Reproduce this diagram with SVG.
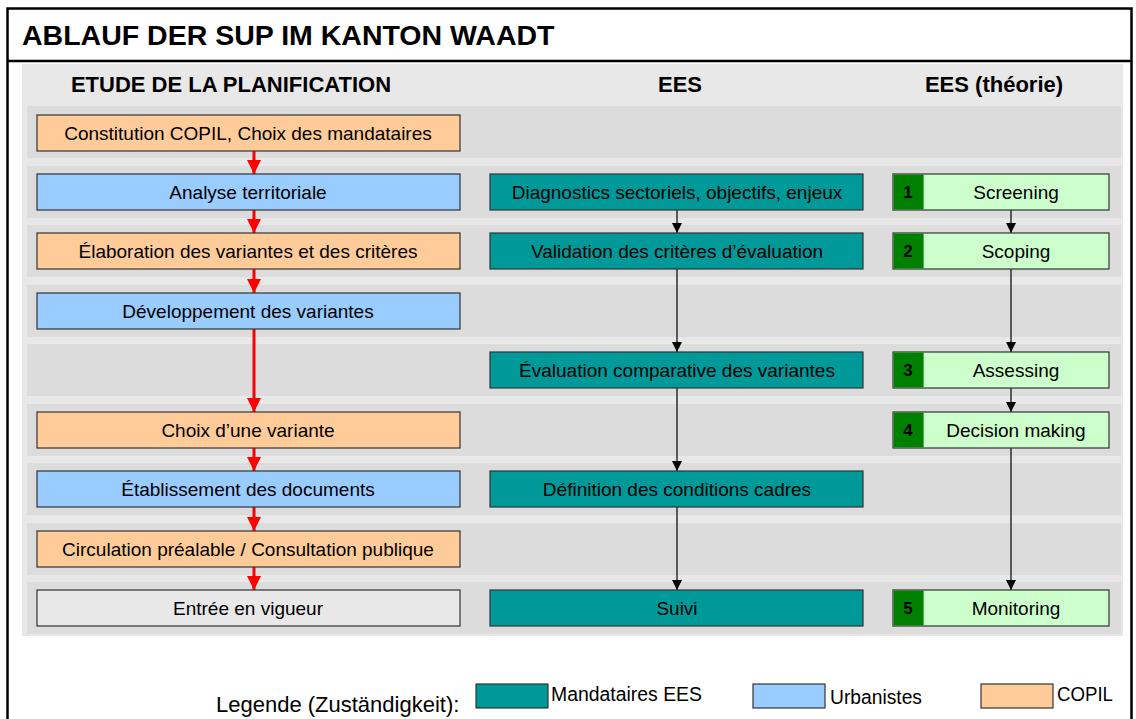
<svg xmlns="http://www.w3.org/2000/svg" width="1136" height="719" viewBox="0 0 1136 719">
<style>
text{font-family:"Liberation Sans",Arial,sans-serif;fill:#000}
.t{font-size:19px;text-anchor:middle}
.h{font-size:22px;font-weight:bold;text-anchor:middle}
.band{fill:#dcdcdc}
.box{stroke:#333;stroke-width:1.2}
.or{fill:#ffcc99}.bl{fill:#99ccff}.te{fill:#009999}.gr{fill:#e8e8e8}.lg{fill:#ccffcc}.dg{fill:#008000}
.num{font-size:17px;font-weight:bold;text-anchor:middle}
.red{stroke:#ff0000;stroke-width:3;fill:none}
.blk{stroke:#000;stroke-width:1.2;fill:none}
.lt{font-size:20px}
</style>
<defs>
<marker id="ra" markerWidth="14" markerHeight="14" refX="14" refY="7" orient="auto" markerUnits="userSpaceOnUse" viewBox="0 0 14 14">
<path d="M0,0 L14,7 L0,14 Z" fill="#ff0000"/>
</marker>
<marker id="ba" markerWidth="10" markerHeight="10" refX="10" refY="5" orient="auto" markerUnits="userSpaceOnUse" viewBox="0 0 10 10">
<path d="M0,0 L10,5 L0,10 Z" fill="#000"/>
</marker>
</defs>
<rect x="0" y="0" width="1136" height="719" fill="#fff"/>
<rect x="7.5" y="8.5" width="1124" height="720" fill="none" stroke="#000" stroke-width="2.5"/>
<line x1="7" y1="61" x2="1132" y2="61" stroke="#000" stroke-width="2.5"/>
<text x="22" y="45" style="font-size:28.5px;font-weight:bold">ABLAUF DER SUP IM KANTON WAADT</text>
<rect x="22" y="64" width="1101" height="572" fill="#e8e8e8"/>
<text class="h" x="231" y="92">ETUDE DE LA PLANIFICATION</text>
<text class="h" x="680" y="92">EES</text>
<text class="h" x="994" y="92">EES (théorie)</text>
<g id="bands">
<rect class="band" x="27" y="106" width="1094" height="52"/>
<rect class="band" x="27" y="166" width="1094" height="52"/>
<rect class="band" x="27" y="225" width="1094" height="52"/>
<rect class="band" x="27" y="285" width="1094" height="52"/>
<rect class="band" x="27" y="344" width="1094" height="52"/>
<rect class="band" x="27" y="404" width="1094" height="52"/>
<rect class="band" x="27" y="463" width="1094" height="52"/>
<rect class="band" x="27" y="523" width="1094" height="52"/>
<rect class="band" x="27" y="582" width="1094" height="52"/>
</g>
<g id="connectors">
<line class="red" x1="254" y1="151" x2="254" y2="174" marker-end="url(#ra)"/>
<line class="red" x1="254" y1="210" x2="254" y2="233" marker-end="url(#ra)"/>
<line class="red" x1="254" y1="269" x2="254" y2="293" marker-end="url(#ra)"/>
<line class="red" x1="254" y1="329" x2="254" y2="412" marker-end="url(#ra)"/>
<line class="red" x1="254" y1="448" x2="254" y2="471" marker-end="url(#ra)"/>
<line class="red" x1="254" y1="507" x2="254" y2="531" marker-end="url(#ra)"/>
<line class="red" x1="254" y1="567" x2="254" y2="590" marker-end="url(#ra)"/>
<line class="blk" x1="677" y1="210" x2="677" y2="233" marker-end="url(#ba)"/>
<line class="blk" x1="677" y1="269" x2="677" y2="352" marker-end="url(#ba)"/>
<line class="blk" x1="677" y1="388" x2="677" y2="471" marker-end="url(#ba)"/>
<line class="blk" x1="677" y1="507" x2="677" y2="590" marker-end="url(#ba)"/>
<line class="blk" x1="1011" y1="210" x2="1011" y2="233" marker-end="url(#ba)"/>
<line class="blk" x1="1011" y1="269" x2="1011" y2="352" marker-end="url(#ba)"/>
<line class="blk" x1="1011" y1="388" x2="1011" y2="412" marker-end="url(#ba)"/>
<line class="blk" x1="1011" y1="448" x2="1011" y2="590" marker-end="url(#ba)"/>
</g>
<g id="n-constitution"><rect class="box or" x="37" y="115" width="423" height="36"/><text class="t" x="248" y="140">Constitution COPIL, Choix des mandataires</text></g>
<g id="n-analyse"><rect class="box bl" x="37" y="174" width="423" height="36"/><text class="t" x="248" y="199">Analyse territoriale</text></g>
<g id="n-elaboration"><rect class="box or" x="37" y="233" width="423" height="36"/><text class="t" x="248" y="258">Élaboration des variantes et des critères</text></g>
<g id="n-developpement"><rect class="box bl" x="37" y="293" width="423" height="36"/><text class="t" x="248" y="318">Développement des variantes</text></g>
<g id="n-choix"><rect class="box or" x="37" y="412" width="423" height="36"/><text class="t" x="248" y="437">Choix d’une variante</text></g>
<g id="n-etablissement"><rect class="box bl" x="37" y="471" width="423" height="36"/><text class="t" x="248" y="496">Établissement des documents</text></g>
<g id="n-circulation"><rect class="box or" x="37" y="531" width="423" height="36"/><text class="t" x="248" y="556">Circulation préalable / Consultation publique</text></g>
<g id="n-entree"><rect class="box gr" x="37" y="590" width="423" height="36"/><text class="t" x="248" y="615">Entrée en vigueur</text></g>
<g id="n-diagnostics"><rect class="box te" x="490" y="174" width="373" height="36"/><text class="t" x="677" y="199">Diagnostics sectoriels, objectifs, enjeux</text></g>
<g id="n-validation"><rect class="box te" x="490" y="233" width="373" height="36"/><text class="t" x="677" y="258">Validation des critères d’évaluation</text></g>
<g id="n-evaluation"><rect class="box te" x="490" y="352" width="373" height="36"/><text class="t" x="677" y="377">Évaluation comparative des variantes</text></g>
<g id="n-definition"><rect class="box te" x="490" y="471" width="373" height="36"/><text class="t" x="677" y="496">Définition des conditions cadres</text></g>
<g id="n-suivi"><rect class="box te" x="490" y="590" width="373" height="36"/><text class="t" x="677" y="615">Suivi</text></g>
<g id="n-screening"><rect class="box lg" x="893" y="174" width="216" height="36"/><rect class="dg" x="893.6" y="174.6" width="30" height="34.8"/><text class="num" x="908" y="198">1</text><text class="t" x="1016" y="199">Screening</text></g>
<g id="n-scoping"><rect class="box lg" x="893" y="233" width="216" height="36"/><rect class="dg" x="893.6" y="233.6" width="30" height="34.8"/><text class="num" x="908" y="257">2</text><text class="t" x="1016" y="258">Scoping</text></g>
<g id="n-assessing"><rect class="box lg" x="893" y="352" width="216" height="36"/><rect class="dg" x="893.6" y="352.6" width="30" height="34.8"/><text class="num" x="908" y="376">3</text><text class="t" x="1016" y="377">Assessing</text></g>
<g id="n-decision"><rect class="box lg" x="893" y="412" width="216" height="36"/><rect class="dg" x="893.6" y="412.6" width="30" height="34.8"/><text class="num" x="908" y="436">4</text><text class="t" x="1016" y="437">Decision making</text></g>
<g id="n-monitoring"><rect class="box lg" x="893" y="590" width="216" height="36"/><rect class="dg" x="893.6" y="590.6" width="30" height="34.8"/><text class="num" x="908" y="614">5</text><text class="t" x="1016" y="615">Monitoring</text></g>
<g id="legend">
<text x="216" y="712" style="font-size:22px">Legende (Zuständigkeit):</text>
<rect class="box te" x="476" y="684" width="72" height="24"/>
<text class="lt" x="551" y="701" textLength="151" lengthAdjust="spacingAndGlyphs">Mandataires EES</text>
<rect class="box bl" x="753" y="684" width="72" height="24"/>
<text class="lt" x="830" y="704" textLength="92" lengthAdjust="spacingAndGlyphs">Urbanistes</text>
<rect class="box or" x="981" y="684" width="72" height="24"/>
<text class="lt" x="1057" y="701" textLength="56" lengthAdjust="spacingAndGlyphs">COPIL</text>
</g>
</svg>
